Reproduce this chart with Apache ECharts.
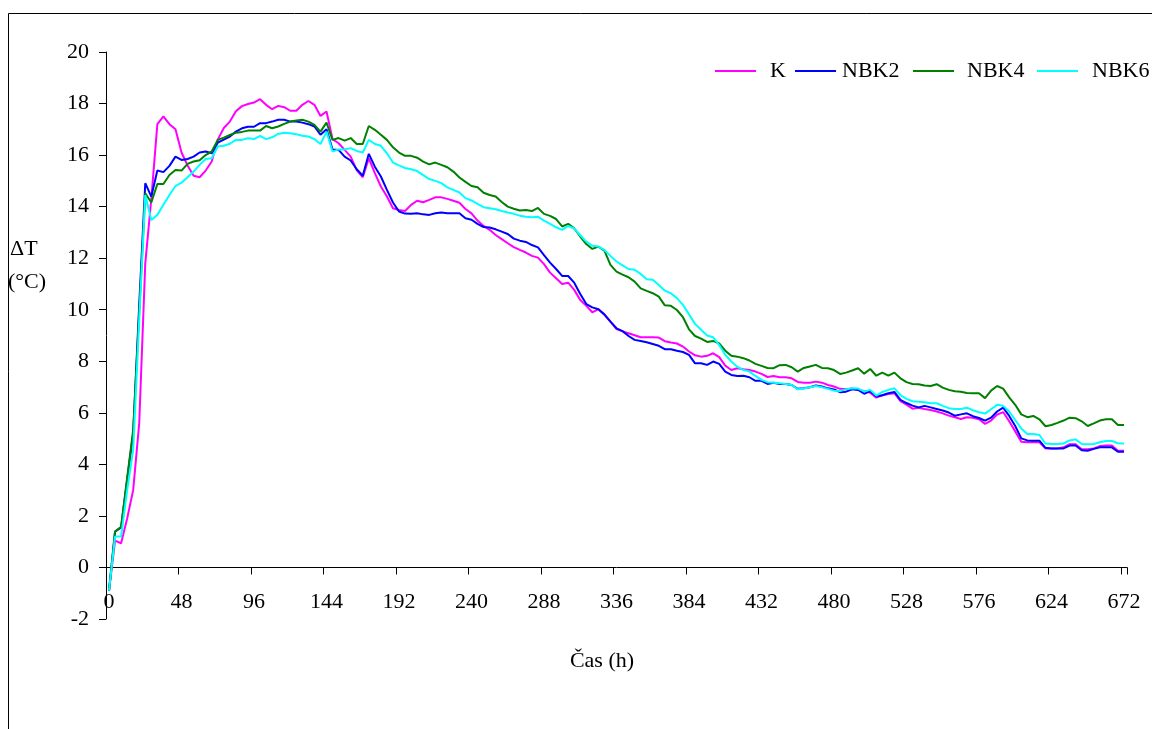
<!DOCTYPE html>
<html>
<head>
<meta charset="utf-8">
<script src="https://cdn.jsdelivr.net/npm/echarts@6/dist/echarts.min.js"></script>
<style>
html,body{margin:0;padding:0;background:#fff;}
#chart{width:1152px;height:729px;}
</style>
</head>
<body>
<div id="chart"></div>
<script>
// Time (h), sampled every 4 h
const hours = [0,4,8,12,16,20,24,28,32,36,40,44,48,52,56,60,64,68,72,76,80,84,88,92,96,100,104,108,112,116,120,124,128,132,136,140,144,148,152,156,160,164,168,172,176,180,184,188,192,196,200,204,208,212,216,220,224,228,232,236,240,244,248,252,256,260,264,268,272,276,280,284,288,292,296,300,304,308,312,316,320,324,328,332,336,340,344,348,352,356,360,364,368,372,376,380,384,388,392,396,400,404,408,412,416,420,424,428,432,436,440,444,448,452,456,460,464,468,472,476,480,484,488,492,496,500,504,508,512,516,520,524,528,532,536,540,544,548,552,556,560,564,568,572,576,580,584,588,592,596,600,604,608,612,616,620,624,628,632,636,640,644,648,652,656,660,664,668,672];

const seriesNames = ['K','NBK2','NBK4','NBK6'];
const yTicks = [-2,0,2,4,6,8,10,12,14,16,18,20];

const K = [-0.9,1.04,0.94,1.9,3.0,5.6,11.8,14.3,17.2,17.5,17.2,17.0,16.1,15.6,15.2,15.14,15.4,15.75,16.6,17.05,17.3,17.7,17.9,17.98,18.04,18.17,17.95,17.78,17.91,17.86,17.72,17.72,17.95,18.1,17.95,17.52,17.69,16.62,16.46,16.2,15.94,15.42,15.14,15.87,15.3,14.78,14.39,13.94,13.87,13.83,14.07,14.23,14.17,14.26,14.36,14.36,14.3,14.23,14.15,13.91,13.74,13.46,13.25,13.1,12.9,12.74,12.58,12.43,12.32,12.22,12.09,12.02,11.77,11.44,11.22,11.0,11.05,10.77,10.38,10.15,9.9,10.02,9.8,9.54,9.25,9.16,9.09,9.01,8.93,8.93,8.93,8.92,8.78,8.73,8.69,8.57,8.38,8.23,8.18,8.21,8.31,8.16,7.83,7.66,7.73,7.69,7.66,7.6,7.51,7.39,7.43,7.38,7.38,7.34,7.2,7.17,7.17,7.21,7.17,7.08,7.02,6.93,6.91,6.94,6.89,6.85,6.78,6.59,6.68,6.73,6.76,6.45,6.32,6.16,6.2,6.15,6.11,6.05,5.98,5.89,5.83,5.76,5.83,5.81,5.75,5.57,5.7,5.93,6.03,5.67,5.28,4.88,4.86,4.86,4.86,4.62,4.62,4.62,4.66,4.78,4.78,4.59,4.59,4.62,4.71,4.73,4.73,4.53,4.53];

const NBK2 = [-0.9,1.39,1.55,3.4,5.2,10.2,14.91,14.39,15.4,15.34,15.58,15.94,15.81,15.85,15.94,16.1,16.14,16.07,16.48,16.6,16.72,16.91,17.04,17.1,17.1,17.24,17.24,17.3,17.37,17.37,17.3,17.3,17.26,17.2,17.11,16.79,17.0,16.22,16.2,15.94,15.79,15.45,15.2,16.05,15.55,15.17,14.65,14.16,13.81,13.73,13.72,13.74,13.7,13.68,13.74,13.77,13.74,13.74,13.74,13.55,13.49,13.33,13.21,13.19,13.12,13.03,12.94,12.76,12.68,12.63,12.51,12.42,12.12,11.83,11.58,11.31,11.31,11.05,10.61,10.22,10.09,10.02,9.82,9.54,9.28,9.17,8.98,8.83,8.79,8.74,8.67,8.6,8.47,8.47,8.41,8.36,8.25,7.92,7.92,7.86,7.99,7.9,7.6,7.47,7.43,7.44,7.38,7.24,7.24,7.12,7.17,7.12,7.12,7.08,6.93,6.95,6.99,7.06,7.02,6.95,6.91,6.8,6.82,6.91,6.89,6.74,6.84,6.63,6.68,6.76,6.81,6.5,6.38,6.28,6.21,6.27,6.21,6.15,6.09,6.01,5.89,5.94,5.98,5.87,5.8,5.7,5.81,6.05,6.2,5.88,5.49,5.01,4.93,4.92,4.92,4.64,4.62,4.62,4.62,4.73,4.73,4.55,4.53,4.6,4.66,4.66,4.66,4.49,4.49];

const NBK4 = [-0.9,1.39,1.58,3.47,5.34,9.9,14.52,14.16,14.88,14.88,15.23,15.42,15.4,15.66,15.75,15.8,16.0,16.14,16.59,16.68,16.78,16.87,16.9,16.95,16.95,16.95,17.13,17.04,17.11,17.21,17.3,17.34,17.37,17.3,17.17,16.91,17.26,16.59,16.66,16.56,16.66,16.43,16.43,17.13,16.98,16.79,16.59,16.3,16.1,15.97,15.97,15.9,15.75,15.64,15.71,15.62,15.53,15.36,15.13,14.96,14.8,14.75,14.54,14.45,14.39,14.18,14.0,13.92,13.85,13.87,13.83,13.95,13.72,13.64,13.52,13.23,13.33,13.16,12.84,12.55,12.36,12.45,12.29,11.74,11.48,11.36,11.26,11.09,10.83,10.73,10.64,10.51,10.17,10.15,9.99,9.71,9.24,8.98,8.88,8.75,8.79,8.69,8.41,8.21,8.18,8.12,8.03,7.9,7.82,7.74,7.73,7.85,7.86,7.77,7.6,7.74,7.8,7.86,7.74,7.73,7.66,7.51,7.56,7.64,7.73,7.52,7.7,7.44,7.56,7.44,7.56,7.34,7.19,7.12,7.11,7.06,7.04,7.11,6.98,6.89,6.84,6.82,6.77,6.76,6.76,6.57,6.86,7.04,6.94,6.6,6.31,5.94,5.83,5.88,5.75,5.48,5.53,5.61,5.7,5.81,5.79,5.67,5.49,5.59,5.7,5.75,5.75,5.53,5.53];

const NBK6 = [-0.9,1.2,1.2,3.0,4.56,9.6,14.45,13.48,13.68,14.07,14.45,14.8,14.93,15.14,15.36,15.62,15.85,15.88,16.33,16.36,16.44,16.59,16.59,16.65,16.62,16.75,16.62,16.69,16.82,16.87,16.85,16.81,16.75,16.72,16.62,16.43,16.91,16.14,16.22,16.22,16.27,16.16,16.1,16.59,16.43,16.36,16.07,15.71,15.6,15.5,15.45,15.38,15.22,15.07,15.0,14.91,14.75,14.65,14.55,14.33,14.24,14.11,13.98,13.94,13.9,13.83,13.77,13.72,13.65,13.61,13.59,13.61,13.46,13.33,13.2,13.1,13.25,13.15,12.89,12.64,12.48,12.45,12.32,12.09,11.87,11.72,11.58,11.55,11.39,11.18,11.16,10.96,10.74,10.64,10.45,10.19,9.82,9.45,9.22,9.0,8.93,8.63,8.25,7.99,7.79,7.66,7.6,7.43,7.28,7.19,7.17,7.15,7.12,7.08,6.91,6.94,6.99,7.04,6.99,6.93,6.86,6.85,6.91,6.95,6.94,6.83,6.89,6.67,6.81,6.89,6.95,6.69,6.54,6.45,6.43,6.41,6.37,6.37,6.27,6.18,6.15,6.15,6.2,6.1,6.02,5.97,6.14,6.31,6.27,6.05,5.72,5.39,5.18,5.18,5.14,4.81,4.79,4.79,4.81,4.93,4.97,4.79,4.78,4.79,4.86,4.91,4.91,4.82,4.81];

const seriesData = [K, NBK2, NBK4, NBK6];
const colors = ['#FF00FF', '#0000FF', '#008000', '#00FFFF'];

const FONT = '"Liberation Serif", "Times New Roman", serif';

const chart = echarts.init(document.getElementById('chart'), null, {renderer: 'canvas'});

// legend placement (left position of each entry and gap between line and text)
const legendLeft = [715, 795, 913, 1037];
const legendPad = [9, 1, 8, 9];

const option = {
  animation: false,
  backgroundColor: '#ffffff',
  grid: {left: 106, right: 25, top: 52, bottom: 110, containLabel: false},
  legend: seriesNames.map((n, i) => ({
    data: [n],
    left: legendLeft[i],
    top: 60,
    itemWidth: 41,
    itemHeight: 2,
    icon: 'rect',
    padding: 0,
    textStyle: {fontFamily: FONT, fontSize: 22, color: '#000', padding: [0, 0, 0, legendPad[i]]}
  })),
  xAxis: {
    type: 'category',
    data: hours,
    boundaryGap: true,
    axisLine: {show: true, onZero: true, lineStyle: {color: '#000', width: 1}},
    axisTick: {show: true, interval: 11, length: 7, inside: false, lineStyle: {color: '#000'}},
    axisLabel: {interval: 11, margin: -28, fontFamily: FONT, fontSize: 22, color: '#000'},
    splitLine: {show: false}
  },
  yAxis: {
    type: 'value',
    min: yTicks[0],
    max: yTicks[yTicks.length - 1],
    interval: 2,
    axisLine: {show: true, lineStyle: {color: '#000', width: 1}},
    axisTick: {show: true, length: 7, inside: false, lineStyle: {color: '#000'}},
    axisLabel: {margin: 17, fontFamily: FONT, fontSize: 22, color: '#000'},
    splitLine: {show: false}
  },
  series: seriesNames.map((n, i) => ({
    name: n,
    type: 'line',
    data: seriesData[i],
    symbol: 'none',
    showSymbol: false,
    lineStyle: {color: colors[i], width: 2},
    itemStyle: {color: colors[i]},
    emphasis: {disabled: true}
  })),
  graphic: [
    {type: 'rect', silent: true, shape: {x: 8.5, y: 13.5, width: 1300, height: 900},
     style: {fill: 'none', stroke: '#000', lineWidth: 1}},
    {type: 'text', x: 10, y: 249, style: {text: 'ΔT', font: '22px ' + FONT, fill: '#000', verticalAlign: 'middle', align: 'left'}},
    {type: 'text', x: 8, y: 282, style: {text: '(°C)', font: '22px ' + FONT, fill: '#000', verticalAlign: 'middle', align: 'left'}},
    {type: 'text', x: 602, y: 661, style: {text: 'Čas (h)', font: '22px ' + FONT, fill: '#000', verticalAlign: 'middle', align: 'center'}}
  ]
};

chart.setOption(option);
</script>
</body>
</html>
